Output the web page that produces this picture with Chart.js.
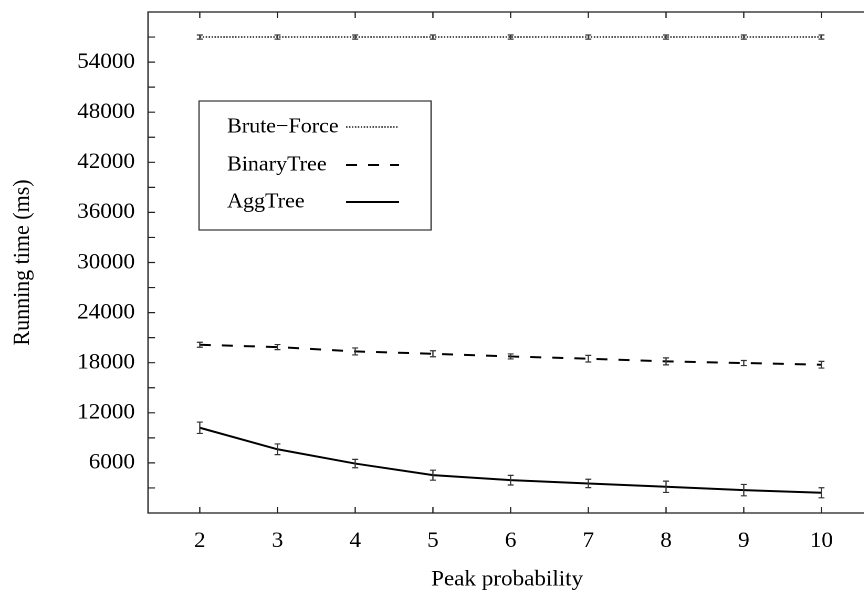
<!DOCTYPE html>
<html><head><meta charset="utf-8">
<script src="https://cdn.jsdelivr.net/npm/chart.js@4.4.1/dist/chart.umd.min.js"></script>
<style>
html,body{margin:0;padding:0;background:#fff;overflow:hidden;width:864px;height:596px}
#c{display:block}
</style></head>
<body>
<canvas id="c" width="838" height="596" style="width:880px;height:596px"></canvas>
<script>
// ---- data ----
const peakProbability = [2, 3, 4, 5, 6, 7, 8, 9, 10];
const seriesNames = ['Brute\u2212Force', 'BinaryTree', 'AggTree'];
const bruteForce    = [57000, 57000, 57000, 57000, 57000, 57000, 57000, 57000, 57000];
const bruteForceErr = [250, 250, 250, 250, 250, 250, 250, 250, 250];
const binaryTree    = [20150, 19870, 19350, 19070, 18750, 18480, 18160, 17960, 17760];
const binaryTreeErr = [300, 300, 420, 360, 300, 400, 420, 300, 400];
const aggTree       = [10210, 7630, 5920, 4530, 3930, 3540, 3140, 2740, 2420];
const aggTreeErr    = [680, 640, 500, 600, 580, 500, 680, 680, 600];
const yTickLabels   = [6000, 12000, 18000, 24000, 30000, 36000, 42000, 48000, 54000];

// ---- layout helpers ----
const S = 1.05; // horizontal stretch of the reference picture
const FONT = "'Liberation Serif', 'Times New Roman', Times, serif";
const FS = 22;      // axis text
const FS_KEY = 21;  // legend text

const pts = (ys) => peakProbability.map((x, i) => ({x, y: ys[i]}));
const errs = [bruteForceErr, binaryTreeErr, aggTreeErr];
const styles = [
  {color: '#1a1a1a', width: 1.5, dash: [1.4, 1.4]},
  {color: '#000', width: 2.0, dash: [10.5, 10.5]},
  {color: '#000', width: 2.0, dash: []}
];

const framePlugin = {
  id: 'frame',
  beforeDatasetsDraw(chart) {
    const {ctx, chartArea: a, scales} = chart;
    ctx.save();
    ctx.strokeStyle = '#222';
    ctx.lineWidth = 1.3;
    ctx.strokeRect(a.left, a.top, a.right - a.left, a.bottom - a.top);
    ctx.lineWidth = 1.2;
    ctx.beginPath();
    scales.x.ticks.forEach(t => {
      const px = scales.x.getPixelForValue(t.value);
      ctx.moveTo(px, a.bottom); ctx.lineTo(px, a.bottom - 6);
      ctx.moveTo(px, a.top); ctx.lineTo(px, a.top + 6);
    });
    scales.y.ticks.forEach(t => {
      if (t.value <= 0 || t.value >= 60000) return;
      const py = scales.y.getPixelForValue(t.value);
      ctx.moveTo(a.left, py); ctx.lineTo(a.left + 7 / S, py);
    });
    ctx.stroke();
    ctx.restore();
  },
  afterDatasetsDraw(chart) {
    const {ctx, scales} = chart;
    ctx.save();
    ctx.strokeStyle = '#333';
    ctx.lineWidth = 1.2;
    ctx.setLineDash([]);
    chart.data.datasets.forEach((ds, di) => {
      const e = errs[di];
      ds.data.forEach((p, i) => {
        const px = scales.x.getPixelForValue(p.x);
        const y1 = scales.y.getPixelForValue(p.y - e[i]);
        const y2 = scales.y.getPixelForValue(p.y + e[i]);
        const cw = 3 / S;
        ctx.beginPath();
        ctx.moveTo(px, y1); ctx.lineTo(px, y2);
        ctx.moveTo(px - cw, y1); ctx.lineTo(px + cw, y1);
        ctx.moveTo(px - cw, y2); ctx.lineTo(px + cw, y2);
        ctx.stroke();
      });
    });
    // legend
    ctx.strokeStyle = '#333';
    ctx.lineWidth = 1.2;
    ctx.strokeRect(199 / S, 101, (431 - 199) / S, 129);
    const rows = [127, 165, 202];
    ctx.font = FS_KEY + 'px ' + FONT;
    ctx.fillStyle = '#000';
    ctx.textBaseline = 'middle';
    ctx.textAlign = 'left';
    seriesNames.forEach((name, i) => {
      ctx.fillText(name, 227 / S, rows[i]);
      const st = styles[i];
      ctx.beginPath();
      ctx.strokeStyle = st.color;
      ctx.lineWidth = st.width;
      ctx.setLineDash(st.dash);
      ctx.moveTo(346 / S, rows[i]); ctx.lineTo(399 / S, rows[i]);
      ctx.stroke();
    });
    ctx.restore();
  }
};

new Chart(document.getElementById('c'), {
  type: 'line',
  data: {
    datasets: [bruteForce, binaryTree, aggTree].map((ys, i) => ({
      label: seriesNames[i],
      data: pts(ys),
      borderColor: styles[i].color,
      borderWidth: styles[i].width,
      borderDash: styles[i].dash,
      pointRadius: 0,
      tension: 0,
      fill: false
    }))
  },
  options: {
    responsive: false,
    animation: false,
    devicePixelRatio: 2,
    layout: {padding: {top: 12, right: 13.2, bottom: 0, left: 0}},
    plugins: {legend: {display: false}, tooltip: {enabled: false}},
    scales: {
      x: {
        type: 'linear', min: 1.334, max: 10.575,
        afterBuildTicks: s => { s.ticks = peakProbability.map(v => ({value: v})); },
        afterFit: s => { s.height = 83; s.paddingLeft = 0; s.paddingRight = 0; },
        grid: {display: false, drawTicks: false},
        border: {display: false},
        ticks: {autoSkip: false, maxRotation: 0, padding: 15, color: '#000',
                font: {family: FONT, size: FS}, callback: v => String(v)},
        title: {display: true, text: 'Peak probability', color: '#000',
                font: {family: FONT, size: FS}, padding: {top: 0, bottom: 3}}
      },
      y: {
        type: 'linear', min: 0, max: 60000,
        afterFit: s => { s.width = 148 / S; s.paddingTop = 0; s.paddingBottom = 0; },
        grid: {display: false, drawTicks: false},
        border: {display: false},
        ticks: {stepSize: 3000, autoSkip: false, padding: 12.5, color: '#000',
                font: {family: FONT, size: FS},
                callback: v => yTickLabels.includes(v) ? String(v) : ''},
        title: {display: true, text: 'Running time (ms)', color: '#000',
                font: {family: FONT, size: FS}, padding: {top: 8.5, bottom: 0}}
      }
    }
  },
  plugins: [framePlugin]
});
</script>
</body></html>
